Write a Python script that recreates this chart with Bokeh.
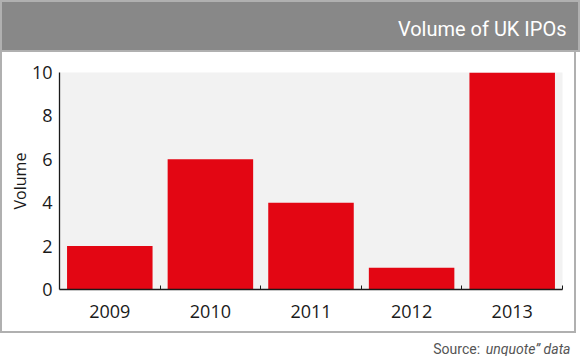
from bokeh.plotting import figure
from bokeh.layouts import column
from bokeh.models import Range1d, FixedTicker, Label
from bokeh.embed import file_html
from bokeh.resources import INLINE

# ---- data ----
years = ["2009", "2010", "2011", "2012", "2013"]
volumes = [2, 6, 4, 1, 10]
y_ticks = [0, 2, 4, 6, 8, 10]

title_text = "Volume of UK IPOs"
y_label = "Volume"
source_prefix = "Source: "
source_name = "unquote\u201d data"

# ---- styling ----
W = 580
HEAD_H, MAIN_H, FOOT_H = 52, 281, 23
HEAD_FONT = "Roboto"
BODY = "Open Sans"
BORDER = "#b0b0b0"
INK = "#1a1a1a"


def blank_fig(h, bg):
    f = figure(width=W, height=h, output_backend="svg", toolbar_location=None,
               x_range=Range1d(0, 1), y_range=Range1d(0, 1),
               x_axis_type=None, y_axis_type=None, min_border=0)
    f.frame_align = False
    f.grid.visible = False
    f.background_fill_color = bg
    f.border_fill_color = bg
    f.outline_line_color = None
    return f


# header
head = blank_fig(HEAD_H, "#888888")
head.outline_line_color = BORDER
head.outline_line_width = 3
head.add_layout(Label(x=566, y=24, x_units="screen", y_units="screen",
                      text=title_text, text_align="right", text_baseline="middle",
                      text_font=HEAD_FONT, text_font_size="20px", text_color="white"))

# main chart
pos = [i + 0.5 for i in range(len(years))]
boundaries = [i + 1 for i in range(len(years))]

p = figure(width=W - 4, height=MAIN_H, output_backend="svg", toolbar_location=None,
           x_range=Range1d(0, len(years)), y_range=Range1d(0, max(y_ticks)),
           min_border_left=57, min_border_right=16,
           min_border_top=20, min_border_bottom=44)
p.frame_align = False
p.background_fill_color = "#f2f2f2"
p.border_fill_color = "white"
p.outline_line_color = None
p.grid.visible = False
p.styles = {"border-left": f"2px solid {BORDER}", "border-right": f"2px solid {BORDER}",
            "border-bottom": f"2px solid {BORDER}"}

p.vbar(x=pos, top=volumes, width=0.85, fill_color="#e30613", line_color=None)

xa = p.xaxis[0]
xa.ticker = FixedTicker(ticks=pos, minor_ticks=boundaries)
xa.major_label_overrides = {pv: yr for pv, yr in zip(pos, years)}
xa.major_tick_in = 0
xa.major_tick_out = 0
xa.minor_tick_in = 4
xa.minor_tick_out = 0
xa.minor_tick_line_color = INK
xa.axis_line_color = INK
xa.axis_line_width = 1.3
xa.major_label_text_font = BODY
xa.major_label_text_font_size = "18px"
xa.major_label_text_color = INK
xa.major_label_standoff = 15

ya = p.yaxis[0]
ya.ticker = FixedTicker(ticks=y_ticks)
ya.major_tick_in = 0
ya.major_tick_out = 0
ya.minor_tick_line_color = None
ya.axis_line_color = INK
ya.axis_line_width = 1.3
ya.major_label_text_font = BODY
ya.major_label_text_font_size = "18px"
ya.major_label_text_color = INK
ya.major_label_standoff = 7
ya.axis_label = y_label
ya.axis_label_text_font = BODY
ya.axis_label_text_font_size = "16px"
ya.axis_label_text_font_style = "normal"
ya.axis_label_text_color = INK
ya.axis_label_standoff = -2

# footer
foot = blank_fig(FOOT_H, "white")
foot.add_layout(Label(x=570, y=8, x_units="screen", y_units="screen",
                      text=source_name, text_align="right", text_baseline="middle",
                      text_font=HEAD_FONT, text_font_size="14px", text_font_style="italic",
                      text_color="#555555"))
foot.add_layout(Label(x=570 - 87, y=8, x_units="screen", y_units="screen",
                      text=source_prefix, text_align="right", text_baseline="middle",
                      text_font=HEAD_FONT, text_font_size="14px", text_color="#555555"))

page = column(head, p, foot, spacing=0)
open("out.html", "w").write(file_html(page, INLINE))
